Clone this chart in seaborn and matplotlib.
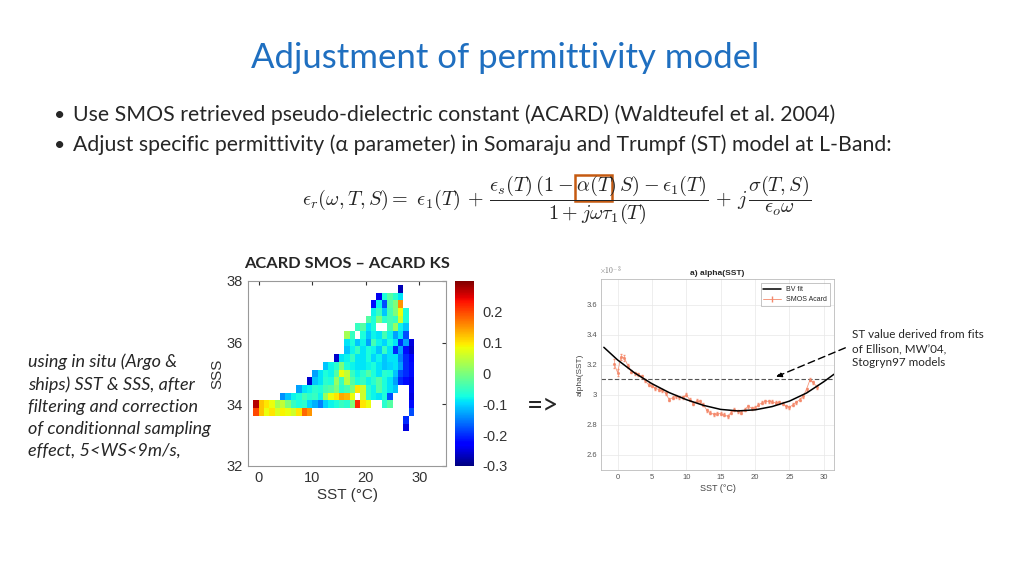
import numpy as np
import pandas as pd
import matplotlib
matplotlib.use("Agg")
import matplotlib.pyplot as plt
import seaborn as sns
from matplotlib.patches import Rectangle
from matplotlib.lines import Line2D

# --- heatmap data: ACARD SMOS - ACARD KS, binned by SSS (0.25) and SST (1 degC)
sss_bins = np.arange(33.25, 37.76, 0.25)
sst_bins = np.arange(-1, 29)  # left edge of each SST bin
nan = np.nan
# (SSS row, first SST bin, values along SST)
acard_segments = [
    (33.25, 27, [-0.25]),
    (33.5, 27, [-0.2]),
    (33.75, -1, [0.2, 0.12, 0.08, 0.1, 0.07, 0.09, 0.08, 0.06, 0.1, 0.18, 0.15]),
    (33.75, 28, [-0.18]),
    (34.0, -1, [0.27, 0.12, 0.1, 0.08, 0.03, 0.05, 0.0, -0.05, -0.07, -0.06, -0.1,
                -0.12, -0.15, -0.1, -0.08, -0.07, -0.05, -0.06, 0.0, 0.22, 0.1, 0.08]),
    (34.0, 23, [-0.06, -0.03]),
    (34.0, 28, [-0.22]),
    (34.25, 4, [-0.14, -0.11, -0.08, -0.07, -0.04, -0.06, -0.05, -0.08, 0.02, 0.08, 0.1,
                0.14, 0.13, 0.08, nan, 0.06, -0.06, -0.08, -0.09, -0.07, -0.18]),
    (34.25, 28, [-0.25]),
    (34.5, 7, [-0.13, -0.09, -0.08, -0.06, -0.07, -0.04, -0.03, 0.0, -0.06, -0.04, 0.0,
               0.1, 0.06, -0.06, -0.08, -0.03, -0.07, -0.09, -0.11]),
    (34.5, 28, [-0.24]),
    (34.75, 9, [-0.26, -0.11, -0.09, -0.06, -0.07, 0.02, -0.05, 0.04, -0.03, -0.07, -0.05,
                -0.08, -0.06, -0.03, -0.07, -0.09, -0.13, -0.2, -0.22, -0.24]),
    (35.0, 10, [-0.13, -0.09, -0.07, -0.08, -0.03, 0.08, 0.05, -0.05, -0.08, -0.06, -0.03,
                -0.07, -0.09, -0.06, -0.07, -0.11, -0.18, -0.2, -0.22]),
    (35.25, 12, [-0.11, -0.08, -0.06, 0.0, -0.07, -0.08, -0.09, -0.09, -0.08, -0.07, -0.09,
                 -0.11, -0.1, -0.09, -0.13, -0.2, -0.22]),
    (35.5, 14, [-0.26, -0.09, -0.08, -0.05, -0.09, -0.09, -0.07, -0.1, -0.08, -0.11, -0.09,
                -0.09, -0.15, -0.2, -0.23]),
    (35.75, 16, [-0.11, -0.08, -0.05, -0.09, -0.07, -0.08, -0.11, -0.05, -0.09, -0.2, -0.13,
                 -0.22, -0.26]),
    (36.0, 16, [-0.09, -0.07, -0.11, -0.08, -0.13, -0.04, -0.08, -0.1, -0.07, -0.09, -0.2,
                -0.13, -0.25]),
    (36.25, 16, [0.03, -0.05, nan, -0.07, -0.11, -0.08, -0.09, -0.04, -0.08, -0.13, -0.09, -0.18]),
    (36.5, 18, [-0.05, -0.03, -0.09, -0.07, nan, nan, -0.04, 0.02, -0.08, -0.11]),
    (36.75, 20, [-0.03, -0.07, 0.0, -0.06, -0.04, -0.05, 0.06, -0.07]),
    (37.0, 21, [-0.08, -0.05, -0.11, -0.04, 0.0, 0.08, -0.07]),
    (37.25, 21, [-0.22, -0.08, -0.18, -0.03, 0.0, 0.15]),
    (37.5, 22, [-0.24, -0.07, -0.03, -0.06, -0.09]),
    (37.75, 26, [-0.27]),
]

# --- right panel: alpha(SST), x1e-3
acard_sst = np.arange(-0.5, 29.1, 0.5)
acard_alpha = [3.206, 3.148, 3.254, 3.245, 3.193, 3.155, 3.144, 3.137, 3.122, 3.096,
               3.067, 3.060, 3.045, 3.034, 3.030, 3.012, 2.968, 2.981, 2.990, 2.985,
               2.985, 2.999, 2.968, 2.941, 2.959, 2.957, 2.933, 2.897, 2.880, 2.871,
               2.875, 2.875, 2.867, 2.858, 2.880, 2.902, 2.891, 2.880, 2.902, 2.924,
               2.911, 2.913, 2.933, 2.946, 2.957, 2.957, 2.955, 2.946, 2.950, 2.941,
               2.924, 2.917, 2.933, 2.950, 2.968, 2.990, 3.038, 3.100, 3.082, 3.052]
acard_err = [0.03, 0.025, 0.02, 0.02, 0.015] + [0.01] * 55
fit_sst = [-2, 0, 2.5, 5, 7.5, 10, 12.5, 15, 17.5, 20, 22.5, 25, 27.5, 30, 31.5]
fit_alpha = [3.316, 3.232, 3.145, 3.074, 3.015, 2.968, 2.930, 2.903, 2.893, 2.900,
             2.922, 2.958, 3.012, 3.087, 3.137]
st_alpha = 3.108

# build the binned grid
grid = np.full((len(sss_bins), len(sst_bins)), np.nan)
for sss, start, vals in acard_segments:
    r = int(round((sss - sss_bins[0]) / 0.25))
    c = start - sst_bins[0]
    grid[r, c:c + len(vals)] = vals
acard_df = pd.DataFrame(grid, index=sss_bins, columns=sst_bins)

sns.set_style("white")
plt.rcParams['font.family'] = ['Lato', 'DejaVu Sans']
plt.rcParams['mathtext.fontset'] = 'cm'

fig = plt.figure(figsize=(10.24, 5.76), dpi=100)

# slide texts
fig.text(0.493, 0.900, "Adjustment of permittivity model", ha='center', va='center',
         fontsize=25, color='#1f6fc0')
bullets = ["Use SMOS retrieved pseudo-dielectric constant (ACARD) (Waldteufel et al. 2004)",
           "Adjust specific permittivity (\u03b1 parameter) in Somaraju and Trumpf (ST) model at L-Band:"]
for i, b in enumerate(bullets):
    y = 0.800 - i * 0.052
    fig.text(0.053, y, "\u2022", ha='left', va='center', fontsize=14)
    fig.text(0.071, y, b, ha='left', va='center', fontsize=15.3)

formula = (r'$\epsilon_r(\omega,T,S) =\ \epsilon_1(T)\, +\, '
           r'\dfrac{\epsilon_s(T)\,(1-\alpha(T)\,S) - \epsilon_1(T)}{1+j\omega\tau_1(T)}'
           r'\, +\, j\,\dfrac{\sigma(T,S)}{\epsilon_o\omega}$')
ftxt = fig.text(0.543, 0.653, formula, ha='center', va='center', fontsize=14.5)

fig.text(0.027, 0.386, "using in situ (Argo &\nships) SST & SSS, after\nfiltering and correction\n"
         "of conditionnal sampling\neffect, 5<WS<9m/s,", ha='left', va='top',
         fontsize=13, style='italic', linespacing=1.45)
fig.text(0.530, 0.297, "=>", ha='center', va='center', fontsize=20)
fig.text(0.832, 0.428, "ST value derived from fits\nof Ellison, MW\u201904,\nStogryn97 models",
         ha='left', va='top', fontsize=8.4, linespacing=1.3)

# heatmap panel
ax1 = fig.add_axes([0.2422, 0.191, 0.1934, 0.3212])
cax = fig.add_axes([0.4443, 0.191, 0.0186, 0.3212])
sns.heatmap(acard_df, ax=ax1, cbar_ax=cax, cmap='jet', vmin=-0.3, vmax=0.3,
            xticklabels=False, yticklabels=False)
ax1.set_xlim(-1, 36)
ax1.set_ylim(-4.5, 19.5)
ax1.set_xticks([1, 11, 21, 31])
ax1.set_xticklabels(['0', '10', '20', '30'])
ax1.set_yticks([-4.5, 3.5, 11.5, 19.5])
ax1.set_yticklabels(['32', '34', '36', '38'])
ax1.tick_params(labelsize=10.5, colors='#333333', direction='in', length=3,
                top=True, right=True, labelcolor='#333333')
for tl in ax1.get_xticklabels() + ax1.get_yticklabels():
    tl.set_fontfamily('Liberation Sans')
ax1.set_xlabel("SST (\u00b0C)", fontsize=11, family='Liberation Sans', color='#333333', labelpad=2)
ax1.set_ylabel("SSS", fontsize=11, family='Liberation Sans', color='#333333', labelpad=2)
for s in ax1.spines.values():
    s.set_visible(True)
    s.set_color('#999999')
    s.set_linewidth(0.8)
ax1.set_title("ACARD SMOS \u2013 ACARD KS", fontsize=11.8, fontweight='bold', pad=9)
cbar = ax1.collections[0].colorbar
cbar.set_ticks([-0.3, -0.2, -0.1, 0, 0.1, 0.2])
cbar.set_ticklabels(['-0.3', '-0.2', '-0.1', '0', '0.1', '0.2'])
cbar.ax.tick_params(labelsize=10.5, labelcolor='#333333', length=0, pad=6)
for tl in cbar.ax.get_yticklabels():
    tl.set_fontfamily('Liberation Sans')

# alpha(SST) panel
ax2 = fig.add_axes([0.587, 0.184, 0.2275, 0.3316])
ax2.errorbar(acard_sst, acard_alpha, yerr=acard_err, color='#f4896b', marker='.', ms=2.5,
             lw=0.6, elinewidth=0.5, capsize=0.8, alpha=0.85, zorder=2)
sns.lineplot(x=fit_sst, y=fit_alpha, color='black', lw=1.1, ax=ax2, zorder=3)
ax2.axhline(st_alpha, color='#555555', lw=0.8, ls=(0, (4, 2)), zorder=1)
ax2.set_xlim(-2.4, 31.5)
ax2.set_ylim(2.5, 3.77)
ax2.set_xticks([0, 5, 10, 15, 20, 25, 30])
ax2.set_yticks([2.6, 2.8, 3.0, 3.2, 3.4, 3.6])
ax2.set_yticklabels(['2.6', '2.8', '3', '3.2', '3.4', '3.6'])
ax2.tick_params(labelsize=5.5, labelcolor='#555555', color='#aaaaaa', direction='in',
                length=2, width=0.5, pad=3)
for tl in ax2.get_xticklabels() + ax2.get_yticklabels():
    tl.set_fontfamily('Liberation Sans')
ax2.grid(True, color='#e8e8e8', lw=0.5)
for s in ax2.spines.values():
    s.set_color('#bbbbbb')
    s.set_linewidth(0.6)
ax2.set_title("a) alpha(SST)", fontsize=6, fontweight='bold', family='Liberation Sans', pad=3)
ax2.set_xlabel("SST (\u00b0C)", fontsize=6.5, family='Liberation Sans', color='#444444', labelpad=2)
ax2.set_ylabel("alpha(SST)", fontsize=6, family='Liberation Sans', color='#444444', labelpad=2)
ax2.text(-0.01, 1.01, r'$\times10^{-3}$', transform=ax2.transAxes, fontsize=5.5,
         color='#777777', ha='left', va='bottom')
handles = [Line2D([], [], color='black', lw=1.1),
           Line2D([], [], color='#f4896b', lw=0.6, marker='|', ms=4)]
leg = ax2.legend(handles, ['BV fit', 'SMOS Acard'], loc='upper right', fontsize=5,
                 frameon=True, fancybox=False, edgecolor='#999999', handlelength=2.5,
                 borderaxespad=0.6, prop={'family': 'Liberation Sans', 'size': 5})
leg.get_frame().set_linewidth(0.5)

ax2.annotate("", xy=(22.7, st_alpha + 0.005), xycoords='data',
             xytext=(0.828, 0.398), textcoords='figure fraction',
             arrowprops=dict(arrowstyle='-|>', color='black', lw=1.0, ls=(0, (5, 3)),
                             mutation_scale=8), annotation_clip=False)

# orange box around alpha(T) in the formula
fig.canvas.draw()
bb = ftxt.get_window_extent().transformed(fig.transFigure.inverted())
bx0 = bb.x0 + 0.538 * bb.width
bx1 = bb.x0 + 0.610 * bb.width
by1 = bb.y1 - 0.02 * bb.height
by0 = bb.y1 - 0.52 * bb.height
fig.add_artist(Rectangle((bx0, by0), bx1 - bx0, by1 - by0, transform=fig.transFigure,
                         fill=False, edgecolor='#c55a11', lw=1.8))

fig.savefig("out.png", dpi=100)
